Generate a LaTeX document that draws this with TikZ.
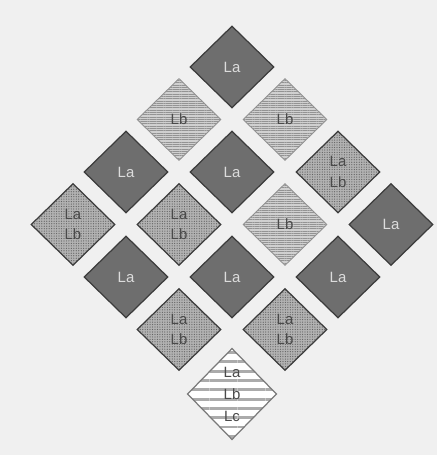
\documentclass[tikz,border=0pt]{standalone}
\usepackage{fontspec}
\setsansfont{Liberation Sans}
\usepackage{tikz}
\usetikzlibrary{shapes.geometric,patterns.meta}
\definecolor{PageGray}{HTML}{F0F0F0}
\definecolor{DarkTile}{HTML}{6E6E6E}
\definecolor{DarkEdge}{HTML}{3C3C3C}
\definecolor{LightTile}{HTML}{D0D0D0}
\definecolor{LightLine}{HTML}{939393}
\definecolor{DotTile}{HTML}{B2B2B2}
\definecolor{DotInk}{HTML}{626262}
\definecolor{StripeInk}{HTML}{ABABAB}
\definecolor{StripeEdge}{HTML}{7A7A7A}
\definecolor{LabelInk}{HTML}{4A4A4A}
\definecolor{PaleInk}{HTML}{DCDCDC}

\begin{document}
\begin{tikzpicture}[
  every node/.style={font=\sffamily\fontsize{8.5}{11.5}\selectfont, align=center},
  tile/.style={diamond, inner sep=0pt, minimum width=1.68cm, minimum height=1.64cm},
  laTile/.style={tile, fill=DarkTile, draw=DarkEdge, line width=0.7pt, text=PaleInk},
  lbTile/.style={tile, draw=LightLine, line width=0.5pt, text=LabelInk,
    preaction={fill=LightTile}, pattern={Lines[distance=1.3pt, line width=0.4pt]}, pattern color=LightLine},
  labTile/.style={tile, draw=DarkEdge, line width=0.7pt, text=LabelInk,
    preaction={fill=DotTile}, pattern={Dots[distance=1.4pt, radius=0.35pt]}, pattern color=DotInk},
  labcTile/.style={tile, minimum width=1.80cm, minimum height=1.84cm, draw=StripeEdge, line width=0.7pt,
    text=LabelInk, font=\sffamily\fontsize{8.5}{12.5}\selectfont,
    preaction={fill=white}, pattern={Lines[distance=5.3pt, line width=1.6pt]}, pattern color=StripeInk}]
  \fill[PageGray] (0,0) rectangle (8.74,9.10);
  \useasboundingbox (0,0) rectangle (8.74,9.10);
  % row 1
  \node[laTile] (laTop) at (4.64,7.76) {La};
  % row 2
  \node[lbTile] (lbUpLeft)  at (3.58,6.71) {Lb};
  \node[lbTile] (lbUpRight) at (5.70,6.71) {Lb};
  % row 3
  \node[laTile]  (laMidLeft)  at (2.52,5.66) {La};
  \node[laTile]  (laMid)      at (4.64,5.66) {La};
  \node[labTile] (labUpRight) at (6.76,5.66) {La\\Lb};
  % row 4
  \node[labTile] (labFarLeft) at (1.46,4.61) {La\\Lb};
  \node[labTile] (labLeft)    at (3.58,4.61) {La\\Lb};
  \node[lbTile]  (lbRight)    at (5.70,4.61) {Lb};
  \node[laTile]  (laFarRight) at (7.82,4.61) {La};
  % row 5
  \node[laTile] (laLowLeft)  at (2.52,3.56) {La};
  \node[laTile] (laLow)      at (4.64,3.56) {La};
  \node[laTile] (laLowRight) at (6.76,3.56) {La};
  % row 6
  \node[labTile] (labLowLeft)  at (3.58,2.51) {La\\Lb};
  \node[labTile] (labLowRight) at (5.70,2.51) {La\\Lb};
  % row 7
  \node[labcTile] (labcBottom) at (4.64,1.22) {La\\Lb\\Lc};
\end{tikzpicture}
\end{document}
